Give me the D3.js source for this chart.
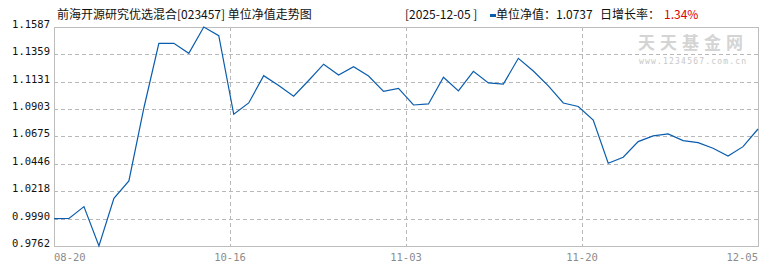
<!DOCTYPE html>
<html>
<head>
<meta charset="utf-8">
<script src="https://cdn.jsdelivr.net/npm/d3@7"></script>
<style>
	body { margin: 0; background: #fff; }
	svg { display: block; }
</style>
</head>
<body>
<svg width="770" height="270"></svg>
<script>

var svg,
	x, y,
	line,
	plot;

// net value per point, 08-20 .. 12-05
var navValues = [
	0.9990, 0.9992, 1.0090, 0.9762, 1.0160, 1.0304, 1.0912, 1.1451,
	1.1451, 1.1368, 1.1587, 1.1515, 1.0860, 1.0954, 1.1181, 1.1100,
	1.1011, 1.1141, 1.1277, 1.1187, 1.1256, 1.1179, 1.1051, 1.1075,
	1.0937, 1.0946, 1.1168, 1.1054, 1.1218, 1.1121, 1.1111, 1.1326,
	1.1220, 1.1096, 1.0954, 1.0925, 1.0812, 1.0452, 1.0502, 1.0632,
	1.0679, 1.0696, 1.0640, 1.0623, 1.0577, 1.0512, 1.0590, 1.0737
];

var dateLabels = ['08-20', '10-16', '11-03', '11-20', '12-05'];

var yTicks = [0.9762, 0.9990, 1.0218, 1.0446, 1.0675, 1.0903, 1.1131, 1.1359, 1.1587];

// plot box (note: "top" is taken by window.top)
var pLeft = 54, pRight = 758, pTop = 27, pBottom = 246;

svg = d3.select('body svg');

x = d3.scaleLinear().domain([0, navValues.length - 1]).range([pLeft, pRight]);
y = d3.scaleLinear().domain([yTicks[0], yTicks[yTicks.length - 1]]).range([pBottom, pTop]);

// tick labels sit at quarters of the series
function labelPos(i) {
	return x(i * (navValues.length - 1) / (dateLabels.length - 1));
}


/*
	grid
*/
plot = svg.append('g');

plot.selectAll('line.hgrid').data(yTicks.slice(1, -1)).enter().append('line')
	.attr('class', 'hgrid')
	.attr('x1', pLeft).attr('x2', pRight)
	.attr('y1', function (d) { return Math.round(y(d)) + 0.5; })
	.attr('y2', function (d) { return Math.round(y(d)) + 0.5; })
	.style('stroke', '#b8b8b8')
	.style('stroke-dasharray', '4,3');

plot.selectAll('line.vgrid').data(dateLabels.slice(1, -1)).enter().append('line')
	.attr('class', 'vgrid')
	.attr('x1', function (d, i) { return Math.round(labelPos(i + 1)) + 0.5; })
	.attr('x2', function (d, i) { return Math.round(labelPos(i + 1)) + 0.5; })
	.attr('y1', pTop).attr('y2', pBottom)
	.style('stroke', '#b8b8b8')
	.style('stroke-dasharray', '4,3');

plot.append('rect')
	.attr('x', pLeft + 0.5).attr('y', pTop + 0.5)
	.attr('width', pRight - pLeft).attr('height', pBottom - pTop)
	.style('fill', 'none')
	.style('stroke', '#bdbdbd');


/*
	watermark
*/
svg.append('text')
	.attr('x', 638).attr('y', 49)
	.style('font-family', '"Noto Sans CJK SC"')
	.style('font-size', '17px')
	.style('font-weight', 'bold')
	.style('letter-spacing', '5px')
	.style('fill', '#d4d4d4')
	.text('天天基金网');

svg.append('text')
	.attr('x', 639).attr('y', 64)
	.style('font-family', '"DejaVu Sans Mono"')
	.style('font-size', '8px')
	.style('letter-spacing', '1.2px')
	.style('fill', '#c8c8c8')
	.text('www.1234567.com.cn');


/*
	axes labels
*/
svg.selectAll('text.ylab').data(yTicks).enter().append('text')
	.attr('class', 'ylab')
	.attr('x', 50)
	.attr('y', function (d) { return y(d) + 1; })
	.attr('text-anchor', 'end')
	.style('font-family', '"DejaVu Sans Mono"')
	.style('font-size', '10.5px')
	.style('fill', '#111')
	.text(function (d) { return d.toFixed(4); });

svg.selectAll('text.xlab').data(dateLabels).enter().append('text')
	.attr('class', 'xlab')
	.attr('x', function (d, i) { return labelPos(i); })
	.attr('y', 261)
	.attr('text-anchor', function (d, i) {
		return i === 0 ? 'start' : (i === dateLabels.length - 1 ? 'end' : 'middle');
	})
	.style('font-family', '"DejaVu Sans Mono"')
	.style('font-size', '10.5px')
	.style('fill', '#8c8c8c')
	.text(function (d) { return d; });


/*
	nav line
*/
line = d3.line()
	.x(function (d, i) { return x(i); })
	.y(function (d) { return y(d); });

svg.append('path').datum(navValues)
	.attr('d', line)
	.style('fill', 'none')
	.style('stroke', '#0a5cad')
	.style('stroke-width', '1.2px');


/*
	header
*/
var head = svg.append('g')
	.style('font-family', '"Noto Sans CJK SC"')
	.style('font-size', '12px')
	.style('fill', '#111');

head.append('text').attr('x', 57).attr('y', 19).text('前海开源研究优选混合[023457] 单位净值走势图');

head.append('text').attr('x', 405).attr('y', 19).text('[2025-12-05 ]');

head.append('rect')
	.attr('x', 490).attr('y', 14)
	.attr('width', 6).attr('height', 3)
	.style('fill', '#0a5cad');

head.append('text').attr('x', 496).attr('y', 19)
	.text('单位净值：' + navValues[navValues.length - 1].toFixed(4));

head.append('text').attr('x', 600).attr('y', 19).text('日增长率：');

head.append('text').attr('x', 664).attr('y', 19)
	.style('fill', '#e00000')
	.text('1.34%');

</script>
</body>
</html>
